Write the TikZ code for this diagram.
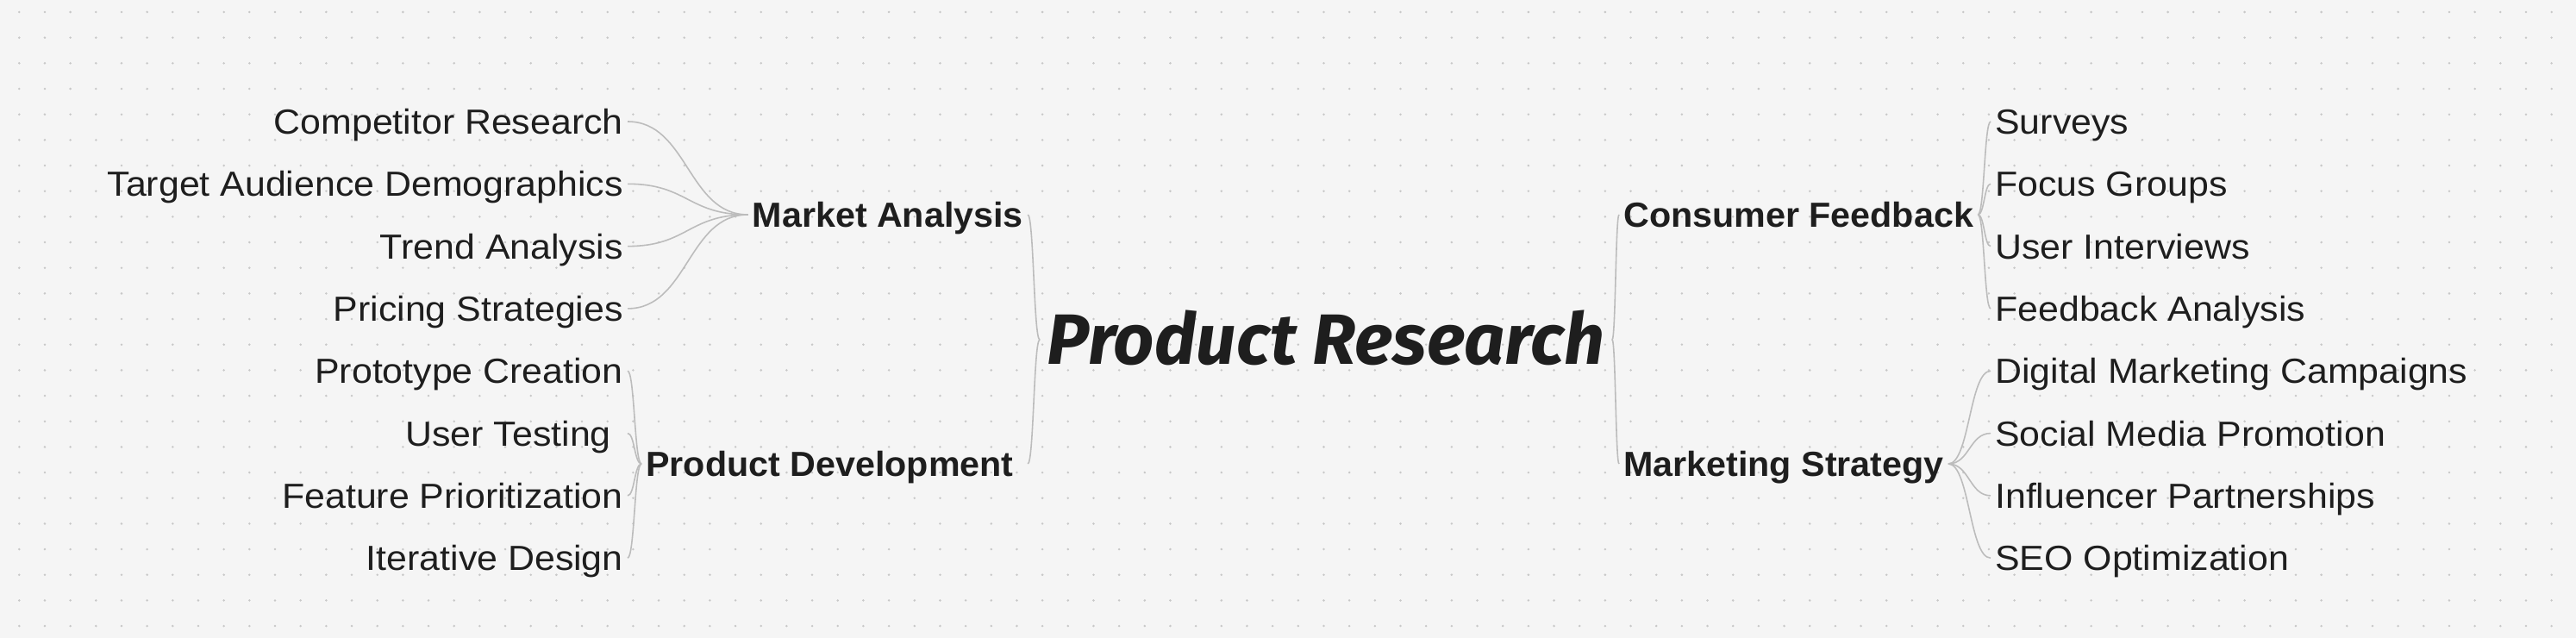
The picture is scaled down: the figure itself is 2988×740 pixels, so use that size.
\documentclass[tikz,border=0pt]{standalone}
\usepackage{fontspec}
\setmainfont{Liberation Sans}
\newfontfamily\leaffont{Liberation Sans}[FakeStretch=1.06]
\newfontfamily\branchfont{Liberation Sans}[FakeStretch=1.02]
\newfontfamily\titlefont{Fira Sans}
\usetikzlibrary{positioning,calc}
\definecolor{paper}{RGB}{245,245,245}
\definecolor{ink}{RGB}{30,30,30}
\definecolor{linkgray}{RGB}{188,188,188}
\definecolor{dotgray}{RGB}{200,200,200}

\begin{document}
\begin{tikzpicture}[
  x=0.01cm, y=-0.01cm,
  node distance=0.431cm,
  leaf/.style={font=\leaffont\fontsize{11.5pt}{13pt}\selectfont, text=ink, outer sep=0pt,
               inner xsep=1.5pt, inner ysep=0pt, text height=8.3pt, text depth=0pt},
  branch/.style={leaf, font=\branchfont\bfseries\fontsize{11.5pt}{13pt}\selectfont},
  topic/.style={font=\titlefont\bfseries\itshape\fontsize{23.5pt}{28pt}\selectfont, text=ink,
                outer sep=0pt, inner xsep=2.5pt, inner ysep=0pt, text height=16pt, text depth=0pt},
  link/.style={draw=linkgray, line width=0.45pt,
               to path={.. controls ($(\tikztostart)!.5!(\tikztostart -| \tikztotarget)$)
                        and ($(\tikztotarget)!.5!(\tikztotarget -| \tikztostart)$) .. (\tikztotarget)}}
]
  % dotted paper
  \fill[paper] (0,0) rectangle (2988,740);
  \useasboundingbox (0,0) rectangle (2988,740);
  \foreach \i in {0,...,99}
    \foreach \j in {0,...,24}
      \fill[dotgray] (22.3+29.67*\i, 14+29.67*\j) circle (0.4pt);

  % centre and branches
  \node[topic] (topic) at (1538,394) {Product Research};
  \node[branch, anchor=west] (market) at (867.5,249) {Market Analysis};
  \node[branch, anchor=west] (product) at (744,538) {Product Development};
  \node[branch, anchor=west] (consumer) at (1878,249) {Consumer Feedback};
  \node[branch, anchor=west] (marketing) at (1878,538) {Marketing Strategy};

  % left leaves
  \node[leaf, anchor=east] (competitor) at (728,141) {Competitor Research};
  \node[leaf, below=of competitor.south east, anchor=north east] (audience) {Target Audience Demographics};
  \node[leaf, below=of audience.south east, anchor=north east] (trend) {Trend Analysis};
  \node[leaf, below=of trend.south east, anchor=north east] (pricing) {Pricing Strategies};
  \node[leaf, below=of pricing.south east, anchor=north east] (prototype) {Prototype Creation};
  \node[leaf, below=of prototype.south east, anchor=north east] (testing) {User Testing\kern4pt};
  \node[leaf, below=of testing.south east, anchor=north east] (feature) {Feature Prioritization};
  \node[leaf, below=of feature.south east, anchor=north east] (iterative) {Iterative Design};

  % right leaves
  \node[leaf, anchor=west] (surveys) at (2309,141) {Surveys};
  \node[leaf, below=of surveys.south west, anchor=north west] (focus) {Focus Groups};
  \node[leaf, below=of focus.south west, anchor=north west] (interviews) {User Interviews};
  \node[leaf, below=of interviews.south west, anchor=north west] (fbanalysis) {Feedback Analysis};
  \node[leaf, below=of fbanalysis.south west, anchor=north west] (digital) {Digital Marketing Campaigns};
  \node[leaf, below=of digital.south west, anchor=north west] (social) {Social Media Promotion};
  \node[leaf, below=of social.south west, anchor=north west] (influencer) {Influencer Partnerships};
  \node[leaf, below=of influencer.south west, anchor=north west] (seo) {SEO Optimization};

  % links
  \coordinate (product link) at (product.east -| market.east);
  \draw[link] (market.east) to (topic.west);
  \draw[link] (product link) to (topic.west);
  \draw[link] (topic.east) to (consumer.west);
  \draw[link] (topic.east) to (marketing.west);

  \draw[link] (competitor.east) to (market.west);
  \draw[link] (audience.east) to (market.west);
  \draw[link] (trend.east) to (market.west);
  \draw[link] (pricing.east) to (market.west);
  \draw[link] (prototype.east) to (product.west);
  \draw[link] (testing.east) to (product.west);
  \draw[link] (feature.east) to (product.west);
  \draw[link] (iterative.east) to (product.west);

  \draw[link] (consumer.east) to (surveys.west);
  \draw[link] (consumer.east) to (focus.west);
  \draw[link] (consumer.east) to (interviews.west);
  \draw[link] (consumer.east) to (fbanalysis.west);
  \draw[link] (marketing.east) to (digital.west);
  \draw[link] (marketing.east) to (social.west);
  \draw[link] (marketing.east) to (influencer.west);
  \draw[link] (marketing.east) to (seo.west);
\end{tikzpicture}
\end{document}
